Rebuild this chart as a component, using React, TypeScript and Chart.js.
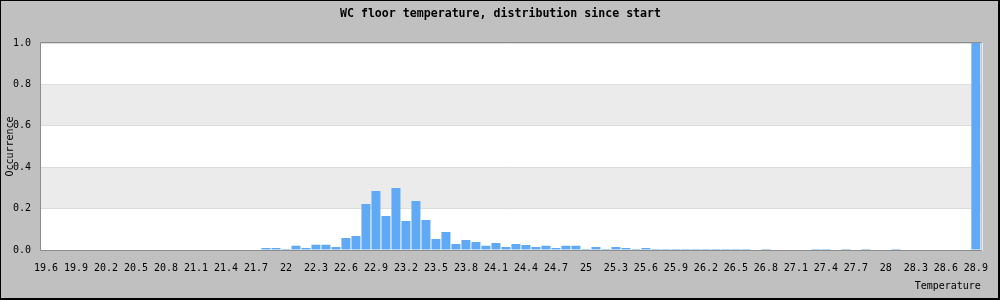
import React, { useEffect, useRef } from "react";
import { Chart, registerables } from "chart.js";

Chart.register(...registerables);

const chartTitle = "WC floor temperature, distribution since start";
const xAxisTitle = "Temperature";
const yAxisTitle = "Occurrence";

const temperatures = [
  "19.6", "19.7", "19.8", "19.9", "20", "20.1", "20.2", "20.3", "20.4", "20.5",
  "20.6", "20.7", "20.8", "20.9", "21", "21.1", "21.2", "21.3", "21.4", "21.5",
  "21.6", "21.7", "21.8", "21.9", "22", "22.1", "22.2", "22.3", "22.4", "22.5",
  "22.6", "22.7", "22.8", "22.9", "23", "23.1", "23.2", "23.3", "23.4", "23.5",
  "23.6", "23.7", "23.8", "23.9", "24", "24.1", "24.2", "24.3", "24.4", "24.5",
  "24.6", "24.7", "24.8", "24.9", "25", "25.1", "25.2", "25.3", "25.4", "25.5",
  "25.6", "25.7", "25.8", "25.9", "26", "26.1", "26.2", "26.3", "26.4", "26.5",
  "26.6", "26.7", "26.8", "26.9", "27", "27.1", "27.2", "27.3", "27.4", "27.5",
  "27.6", "27.7", "27.8", "27.9", "28", "28.1", "28.2", "28.3", "28.4", "28.5",
  "28.6", "28.7", "28.8", "28.9",
];

const occurrence = [
  0, 0, 0, 0, 0, 0, 0, 0, 0, 0,
  0, 0, 0, 0, 0, 0, 0, 0, 0, 0,
  0, 0, 0.01, 0.01, 0.005, 0.02, 0.01, 0.025, 0.025, 0.015,
  0.058, 0.068, 0.222, 0.285, 0.164, 0.3, 0.14, 0.237, 0.145, 0.053,
  0.087, 0.029, 0.048, 0.039, 0.02, 0.034, 0.015, 0.029, 0.024, 0.015,
  0.02, 0.01, 0.02, 0.02, 0.005, 0.015, 0.005, 0.015, 0.01, 0.005,
  0.01, 0.005, 0.005, 0.005, 0.005, 0.005, 0.005, 0.005, 0.005, 0.005,
  0.005, 0, 0.005, 0, 0, 0, 0, 0.005, 0.005, 0,
  0.005, 0, 0.005, 0, 0, 0.005, 0, 0, 0, 0,
  0, 0, 0, 1.0,
];

const yTicks = [0, 0.2, 0.4, 0.6, 0.8, 1.0];

const MONO = "'DejaVu Sans Mono', monospace";

const framePlugin = {
  id: "framePlugin",
  beforeDraw(chart: any) {
    const { ctx, chartArea, width, height } = chart;
    const y = chart.scales.y;
    ctx.save();
    ctx.fillStyle = "#c0c0c0";
    ctx.fillRect(0, 0, width, height);
    ctx.fillStyle = "#ffffff";
    ctx.fillRect(chartArea.left, chartArea.top, chartArea.right - chartArea.left, chartArea.bottom - chartArea.top);
    ctx.fillStyle = "#ebebeb";
    for (let i = 0; i < yTicks.length - 1; i++) {
      if (i % 2 === 1) {
        const y0 = y.getPixelForValue(yTicks[i + 1]);
        const y1 = y.getPixelForValue(yTicks[i]);
        ctx.fillRect(chartArea.left, y0, chartArea.right - chartArea.left, y1 - y0);
      }
    }
    ctx.restore();
  },
  afterDraw(chart: any) {
    const { ctx, chartArea, width, height } = chart;
    ctx.save();
    ctx.lineWidth = 1;
    ctx.strokeStyle = "#8c8c8c";
    ctx.beginPath();
    ctx.moveTo(chartArea.left - 0.5, chartArea.bottom + 0.5);
    ctx.lineTo(chartArea.left - 0.5, chartArea.top - 0.5);
    ctx.lineTo(chartArea.right + 0.5, chartArea.top - 0.5);
    ctx.moveTo(chartArea.left - 0.5, chartArea.bottom + 0.5);
    ctx.lineTo(chartArea.right + 1, chartArea.bottom + 0.5);
    ctx.stroke();
    ctx.strokeStyle = "#f0f0f0";
    ctx.beginPath();
    ctx.moveTo(chartArea.right + 1.5, chartArea.top);
    ctx.lineTo(chartArea.right + 1.5, chartArea.bottom + 1);
    ctx.stroke();
    // title
    ctx.fillStyle = "#000000";
    ctx.font = "bold 11.6px " + MONO;
    ctx.textAlign = "center";
    ctx.textBaseline = "middle";
    ctx.fillText(chartTitle, width / 2 + 0.5, 13.5);
    // outer border
    ctx.fillRect(0, 0, width, 1);
    ctx.fillRect(0, 0, 1, height);
    ctx.fillRect(width - 2, 0, 2, height);
    ctx.fillRect(0, height - 2, width, 2);
    ctx.restore();
  },
};

export default function App() {
  const canvasRef = useRef<HTMLCanvasElement | null>(null);

  useEffect(() => {
    if (!canvasRef.current) return;
    const chart = new Chart(canvasRef.current, {
      type: "bar",
      data: {
        labels: temperatures,
        datasets: [
          {
            data: occurrence,
            backgroundColor: "#5fa9f5",
            borderWidth: 0,
            barPercentage: 0.9,
            categoryPercentage: 1.0,
          },
        ],
      },
      options: {
        responsive: false,
        animation: false,
        devicePixelRatio: 1,
        layout: { padding: { left: 0, right: 19, top: 43, bottom: 0 } },
        plugins: {
          legend: { display: false },
          tooltip: { enabled: false },
          title: { display: false },
        },
        scales: {
          x: {
            type: "category",
            offset: true,
            grid: { display: false, drawTicks: false },
            border: { display: false },
            ticks: {
              autoSkip: false,
              maxRotation: 0,
              minRotation: 0,
              padding: 12,
              color: "#000000",
              font: { family: MONO, size: 10 },
              callback: (_v: any, i: number) => (i % 3 === 0 ? temperatures[i] : ""),
            },
            title: {
              display: true,
              text: xAxisTitle,
              align: "end",
              color: "#000000",
              font: { family: MONO, size: 10, lineHeight: "12px" },
              padding: { top: 0, bottom: 8 },
            },
            afterFit: (s: any) => {
              s.height = 50;
            },
          },
          y: {
            min: 0,
            max: 1,
            grid: { color: "#dcdcdc", drawTicks: false },
            border: { display: false },
            ticks: {
              stepSize: 0.2,
              padding: 10,
              color: "#000000",
              font: { family: MONO, size: 10 },
              callback: (v: any) => Number(v).toFixed(1),
            },
            title: {
              display: true,
              text: yAxisTitle,
              color: "#000000",
              font: { family: MONO, size: 10, lineHeight: "12px" },
              padding: { top: 4, bottom: 0 },
            },
            afterFit: (s: any) => {
              s.width = 41;
            },
          },
        },
      },
      plugins: [framePlugin],
    } as any);
    return () => chart.destroy();
  }, []);

  return (
    <div style={{ position: "absolute", left: 0, top: 0, width: 1000, height: 300 }}>
      <canvas ref={canvasRef} width={1000} height={300} />
    </div>
  );
}
